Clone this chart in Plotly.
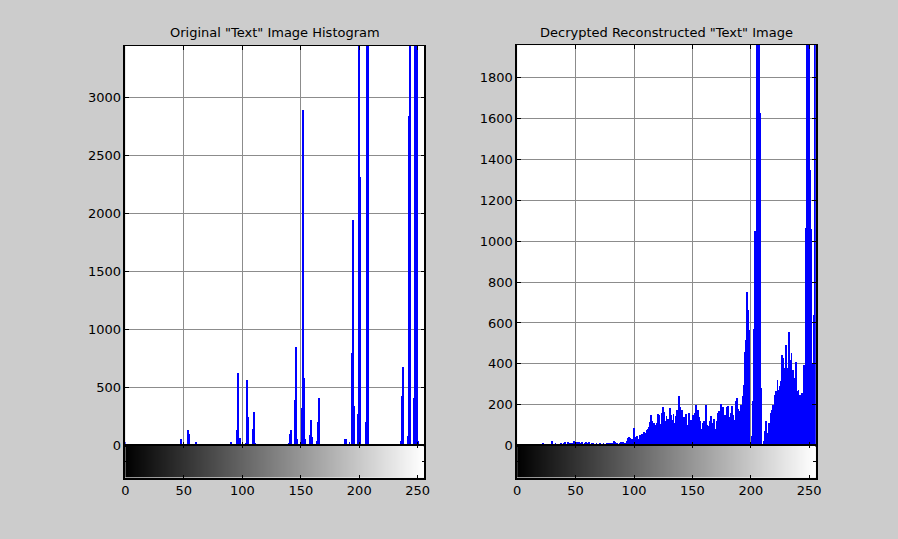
import plotly.graph_objects as go

# left panel: only the non-empty bins of the original image histogram
orig_bins = [0, 1, 5, 6, 41, 48, 54, 55, 61, 91, 96, 97, 98, 103, 104, 105, 109, 110, 111,
             138, 140, 141, 142, 145, 146, 147, 151, 152, 153, 154, 158, 159, 160, 164, 165, 166,
             188, 189, 192, 194, 195, 196, 199, 200, 201, 206, 207, 208,
             236, 237, 238, 242, 243, 244, 247, 248, 249, 250, 251]
orig_counts = [34, 12, 15, 10, 8, 55, 135, 96, 34, 34, 135, 627, 65, 25, 562, 246, 144, 287, 25,
               10, 20, 100, 132, 392, 847, 53, 325, 2887, 584, 53, 88, 223, 75, 40, 203, 409,
               53, 53, 30, 796, 1946, 344, 268, 4000, 2313, 200, 4000, 4000,
               40, 429, 675, 80, 2835, 4000, 409, 4000, 4000, 4000, 40]

# right panel: decrypted image histogram, all 256 bins
dec_bins = list(range(256))
dec_counts = [
    8, 6, 5, 7, 6, 5, 6, 5, 7, 6,
    5, 6, 7, 5, 6, 8, 5, 6, 7, 5,
    6, 8, 12, 6, 5, 7, 6, 9, 5, 6,
    20, 8, 6, 10, 7, 6, 9, 5, 12, 8,
    10, 16, 9, 7, 18, 10, 12, 8, 14, 20,
    10, 16, 8, 18, 12, 10, 19, 9, 14, 17,
    8, 12, 17, 9, 10, 14, 6, 8, 11, 7,
    9, 12, 6, 8, 10, 7, 9, 12, 8, 14,
    10, 12, 8, 22, 16, 12, 10, 8, 14, 18,
    12, 16, 10, 14, 20, 35, 40, 38, 32, 30,
    85, 36, 40, 44, 30, 52, 48, 57, 40, 65,
    60, 73, 80, 89, 114, 151, 120, 109, 80, 102,
    110, 155, 150, 106, 160, 187, 163, 120, 146, 130,
    100, 182, 150, 122, 155, 110, 146, 171, 90, 242,
    187, 171, 100, 138, 122, 155, 100, 159, 118, 126,
    110, 151, 158, 199, 160, 175, 140, 120, 78, 110,
    120, 105, 199, 102, 94, 120, 143, 110, 95, 130,
    78, 118, 159, 170, 140, 202, 186, 151, 130, 151,
    186, 191, 140, 159, 191, 150, 126, 215, 232, 180,
    143, 167, 200, 240, 296, 458, 515, 750, 661, 564,
    0, 45, 215, 572, 1050, 2400, 2200, 2300, 1625, 280,
    0, 21, 70, 118, 60, 37, 110, 160, 175, 199,
    130, 248, 264, 321, 272, 290, 313, 442, 426, 377,
    491, 345, 377, 556, 420, 450, 369, 329, 264, 410,
    264, 270, 248, 240, 256, 250, 394, 1066, 2400, 2300,
    2200, 1350, 1060, 400, 637, 2500,
]

gray_levels = list(range(256))
x_ticks = [0, 50, 100, 150, 200, 250]
left_yticks = [0, 500, 1000, 1500, 2000, 2500, 3000]
right_yticks = [0, 200, 400, 600, 800, 1000, 1200, 1400, 1600, 1800]

titles = ['Original "Text" Image Histogram', 'Decrypted Reconstructed "Text" Image']

# the page body keeps its 8px margin on every side, so the figure fits inside it
OFF = 8
W, H = 898 - 2 * OFF, 539 - 2 * OFF
FONT = dict(family="DejaVu Sans, Arial, sans-serif", size=13, color="black")
BG = "#cccccc"


def px_x(v):
    return (v - OFF) / W


def px_y(v):
    return 1 - (v - OFF) / H


fig = go.Figure()

# histogram stems (drawn as thin bars)
fig.add_trace(go.Bar(x=orig_bins, y=orig_counts, width=0.75, marker_color="#0000ff",
                     marker_line_width=0, xaxis="x", yaxis="y", showlegend=False))
fig.add_trace(go.Bar(x=dec_bins, y=dec_counts, width=0.75, marker_color="#0000ff",
                     marker_line_width=0, xaxis="x2", yaxis="y2", showlegend=False))

# grayscale colour strips under each histogram
for xa, ya in [("x3", "y3"), ("x4", "y4")]:
    fig.add_trace(go.Heatmap(x=gray_levels, y=[0], z=[gray_levels],
                             colorscale=[[0, "black"], [1, "white"]], showscale=False,
                             hoverinfo="skip", xaxis=xa, yaxis=ya))

zero_y = px_y(452.3)
bar_bottom = px_y(485)
left_dom = [px_x(122.7), px_x(425)]
right_dom = [px_x(519), px_x(821)]

hist_x = dict(range=[0, 255.6], tickvals=x_ticks, showticklabels=False, ticks="inside",
              ticklen=4, tickcolor="black", showgrid=True, gridcolor="#8c8c8c", gridwidth=1,
              showline=True, linecolor="black", linewidth=1, mirror="ticks", zeroline=False)
hist_y = dict(ticks="inside", ticklen=4, tickcolor="black", showgrid=True,
              gridcolor="#8c8c8c", gridwidth=1, showline=True, linecolor="black",
              linewidth=1.5, mirror="ticks", zeroline=False, tickfont=FONT)
strip_x = dict(range=[0, 255.6], tickvals=x_ticks, ticks="inside", ticklen=3,
               tickcolor="black", showgrid=False, showline=True, linecolor="black",
               linewidth=1.5, mirror="ticks", zeroline=False, tickfont=FONT)
strip_y = dict(range=[-0.5, 0.5], showticklabels=False, tickvals=[0], ticks="inside",
               ticklen=3, tickcolor="black", showgrid=False, showline=True,
               linecolor="black", linewidth=1.5, mirror="ticks", zeroline=False)

fig.update_layout(
    width=W, height=H,
    margin=dict(l=0, r=0, t=0, b=0),
    paper_bgcolor=BG,
    plot_bgcolor="white",
    font=FONT,
    bargap=0,
    xaxis=dict(domain=left_dom, anchor="y", **hist_x),
    yaxis=dict(domain=[zero_y, px_y(46.5)], anchor="x", range=[0, 3440],
               tickvals=left_yticks, **hist_y),
    xaxis2=dict(domain=right_dom, anchor="y2", **hist_x),
    yaxis2=dict(domain=[zero_y, px_y(45.7)], anchor="x2", range=[0, 1960],
                tickvals=right_yticks, **hist_y),
    xaxis3=dict(domain=left_dom, anchor="y3", **strip_x),
    yaxis3=dict(domain=[bar_bottom, zero_y], anchor="x3", **strip_y),
    xaxis4=dict(domain=right_dom, anchor="y4", **strip_x),
    yaxis4=dict(domain=[bar_bottom, zero_y], anchor="x4", **strip_y),
)

for dom, title in zip([left_dom, right_dom], titles):
    fig.add_annotation(x=(dom[0] + dom[1]) / 2, y=px_y(33), xref="paper", yref="paper",
                       text=title, showarrow=False, font=FONT, xanchor="center", yanchor="middle")

# the gray page colour also fills the body margin around the figure
fig.write_html("out.html", config={"displayModeBar": False},
               post_script="document.body.style.background = '#cccccc';")
